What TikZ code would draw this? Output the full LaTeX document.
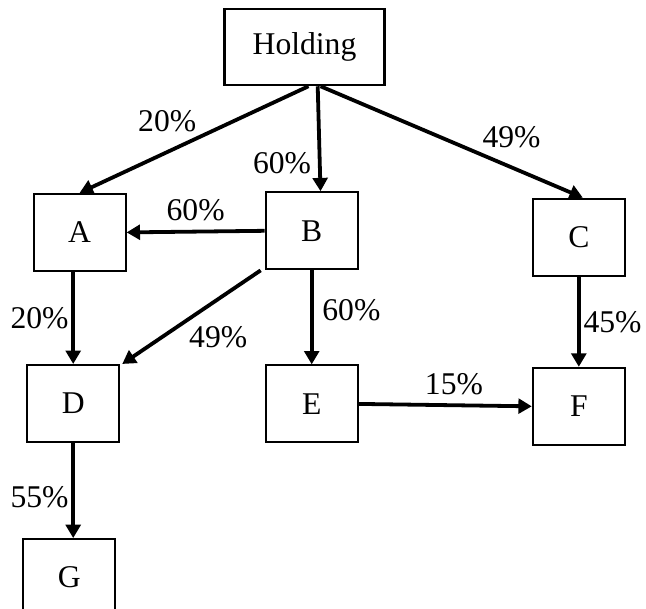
\documentclass[tikz,border=0pt]{standalone}
\usepackage{fontspec}
\setmainfont{Liberation Serif}
\usetikzlibrary{arrows.meta,positioning}

\begin{document}
\begin{tikzpicture}[node distance=2.3cm, auto]
    % Styles
    \tikzstyle{box} = [rectangle, draw, line width=1.5pt, minimum width=2.3cm, minimum height=1.925cm, inner sep=0pt, font=\fontsize{22.5}{27}\selectfont]
    \tikzstyle{arrow} = [line width=2.7pt, -{Triangle[length=9.5pt,width=10.5pt]}]
    \tikzstyle{pct} = [font=\fontsize{22.5}{27}\selectfont, inner sep=2pt]

    \clip (0,0) rectangle (16.15,-15.2);

    % Nodes - first row
    \node [box] (A) at (1.99,-5.81) {A};
    \node [box, right=3.45cm of A, yshift=0.04cm] (B) {B};
    \node [box, right=4.325cm of B, yshift=-0.16cm] (C) {C};

    % Top: holding company
    \node [box, above=2.625cm of B, xshift=-0.18cm, minimum width=4cm, minimum height=1.9cm] (Holding) {Holding};

    % Nodes - second row
    \node [box, below=2.3cm of A, xshift=-0.16cm] (D) {D};
    \node [box, below=2.35cm of B] (E) {E};
    \node [box, below=2.25cm of C] (F) {F};

    % Nodes - third row
    \node [box, below=2.375cm of D, xshift=-0.1cm] (G) {G};

    % Holding shares
    \draw[arrow] ([xshift=0.1cm]Holding.south) -- node[pos=0.47, above left, pct] {20\%} (A.north);
    \draw[arrow] ([xshift=0.33cm]Holding.south) -- node[pos=0.73, left, pct, xshift=-0.1cm] {60\%} ([xshift=0.22cm]B.north);
    \draw[arrow] ([xshift=0.4cm]Holding.south) -- node[pos=0.6, above right, pct] {49\%} ([xshift=0.1cm]C.north);

    % Shares of B
    \draw[arrow] (B.west) -- node[above, pct, yshift=0.15cm] {60\%} (A.east);
    \draw[arrow] ([xshift=-0.1cm]B.south west) -- node[pos=0.55, below right, pct] {49\%} ([xshift=0.05cm]D.north east);
    \draw[arrow] (B.south) -- node[pos=0.42, right, pct, xshift=0.15cm] {60\%} (E.north);

    % Other shares
    \draw[arrow] (D.north |- A.south) -- node[left, pct] {20\%} (D.north);
    \draw[arrow] (C.south) -- node[right, pct] {45\%} (F.north);
    \draw[arrow] (E.east) -- node[pos=0.55, above, pct, yshift=0.15cm] {15\%} (F.west);
    \draw[arrow] (D.south) -- node[pos=0.57, left, pct] {55\%} (D.south |- G.north);

\end{tikzpicture}
\end{document}
